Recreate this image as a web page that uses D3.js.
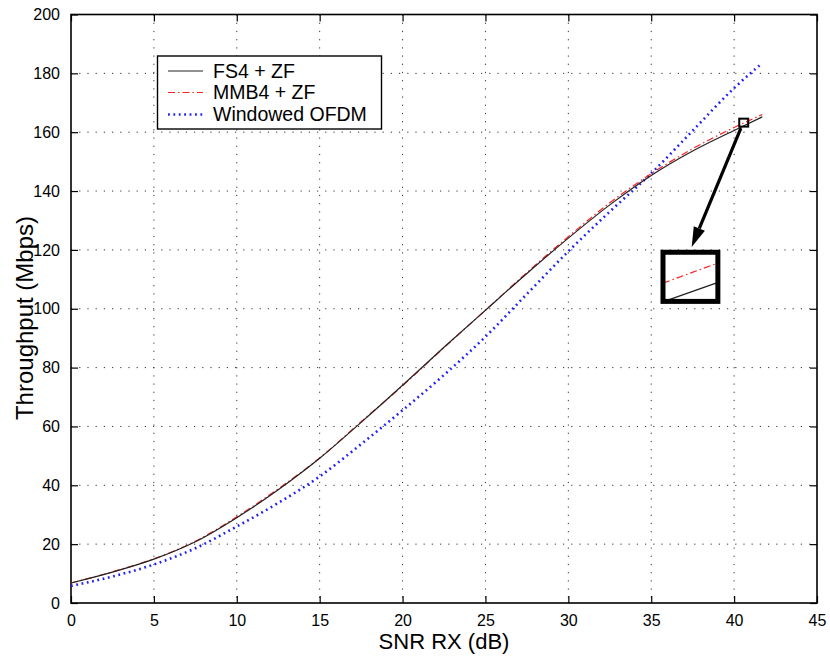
<!DOCTYPE html>
<html><head><meta charset="utf-8">
<script src="https://cdn.jsdelivr.net/npm/d3@7"></script>
<style>body{margin:0;background:#fff}svg{display:block}text{font-family:"Liberation Sans",Arial,sans-serif}</style>
</head><body><svg id="c" width="830" height="662"></svg>
<script>
const snr = [0, 2.5, 5, 7.5, 10, 12.5, 15, 17.5, 20, 22.5, 25, 27.5, 30, 32.5, 35, 37.5, 40, 41.7];
const fs4 = [6.8, 10.5, 14.9, 20.8, 29.0, 38.5, 49.2, 61.4, 74.0, 86.9, 99.5, 112.0, 124.0, 135.3, 145.3, 153.6, 160.6, 165.2];
const mmb4 = [6.8, 10.6, 15.0, 21.0, 29.3, 38.8, 49.3, 61.6, 73.8, 86.8, 99.5, 112.3, 124.5, 136.0, 145.9, 154.4, 161.6, 166.0];
const wofdm = [5.8, 9.0, 13.1, 18.6, 26.0, 34.0, 43.0, 54.0, 65.5, 77.5, 90.5, 105.0, 119.5, 133.0, 146.0, 160.5, 175.0, 183.5];
const seriesNames = ["FS4 + ZF", "MMB4 + ZF", "Windowed OFDM"];
const xTicks = [0, 5, 10, 15, 20, 25, 30, 35, 40, 45];
const yTicks = [0, 20, 40, 60, 80, 100, 120, 140, 160, 180, 200];
const xLabel = "SNR RX (dB)", yLabel = "Throughput (Mbps)";
// annotation (data units)
const zoomBox = {x0: 40.31, x1: 40.85, y0: 161.9, y1: 164.6};
const arrow = {x0: 40.41, y0: 161.4, x1: 37.44, y1: 121.0};
const bigBox = {x0: 35.71, x1: 39.02, y0: 102.5, y1: 119.2};
const insetRed = [[35.71, 108.7], [38.95, 115.4]];
const insetBlack = [[35.95, 102.6], [36.13, 103.2], [38.95, 108.8]];

const svg = d3.select("#c");
const L = 71, R = 817, T = 14.5, B = 603;
const x = d3.scaleLinear().domain([0, 45]).range([L, R]);
const y = d3.scaleLinear().domain([0, 200]).range([B, T]);

// grid
const g = svg.append("g");
g.selectAll(".gx").data(xTicks.slice(1, -1)).join("line")
  .attr("x1", d => x(d)).attr("x2", d => x(d)).attr("y1", T).attr("y2", B)
  .attr("stroke", "#333").attr("stroke-width", 1).attr("stroke-dasharray", "1.2,7");
g.selectAll(".gy").data(yTicks.slice(1, -1)).join("line")
  .attr("y1", d => y(d)).attr("y2", d => y(d)).attr("x1", L).attr("x2", R)
  .attr("stroke", "#333").attr("stroke-width", 1).attr("stroke-dasharray", "1.2,7");

// axes
const ax = d3.axisBottom(x).tickValues(xTicks).tickSize(-7).tickPadding(12);
const ay = d3.axisLeft(y).tickValues(yTicks).tickSize(-7).tickPadding(11);
const axT = d3.axisTop(x).tickValues(xTicks).tickSize(-7).tickFormat("");
const ayR = d3.axisRight(y).tickValues(yTicks).tickSize(-7).tickFormat("");
function styleAxis(sel) {
  sel.select(".domain").remove();
  sel.selectAll("line").attr("stroke", "#000").attr("stroke-width", 1.2);
  sel.selectAll("text").attr("font-family", "Liberation Sans, Arial, sans-serif").attr("font-size", 16).attr("fill", "#000");
}
svg.append("g").attr("transform", `translate(0,${B})`).call(ax).call(styleAxis);
svg.append("g").attr("transform", `translate(${L},0)`).call(ay).call(styleAxis);
svg.append("g").attr("transform", `translate(0,${T})`).call(axT).call(styleAxis);
svg.append("g").attr("transform", `translate(${R},0)`).call(ayR).call(styleAxis);
svg.append("rect").attr("x", L).attr("y", T).attr("width", R - L).attr("height", B - T)
  .attr("fill", "none").attr("stroke", "#000").attr("stroke-width", 1.6);

// lines
const line = d3.line().x(d => x(d[0])).y(d => y(d[1])).curve(d3.curveMonotoneX);
const styles = [
  {data: fs4, stroke: "#222", w: 1.2, dash: null},
  {data: mmb4, stroke: "#ff2020", w: 1.2, dash: "7,3,1.5,3"},
  {data: wofdm, stroke: "#2020ff", w: 2.6, dash: "1.8,3.6"}
];
[2, 1, 0].forEach(i => {
  const s = styles[i];
  svg.append("path").datum(snr.map((v, k) => [v, s.data[k]])).attr("d", line)
    .attr("fill", "none").attr("stroke", s.stroke).attr("stroke-width", s.w)
    .attr("stroke-dasharray", s.dash);
});

// annotation
svg.append("rect").attr("x", x(zoomBox.x0)).attr("y", y(zoomBox.y1))
  .attr("width", x(zoomBox.x1) - x(zoomBox.x0)).attr("height", y(zoomBox.y0) - y(zoomBox.y1))
  .attr("fill", "none").attr("stroke", "#000").attr("stroke-width", 2);
{
  const ax0 = x(arrow.x0), ay0 = y(arrow.y0), ax1 = x(arrow.x1), ay1 = y(arrow.y1);
  const ang = Math.atan2(ay1 - ay0, ax1 - ax0), hl = 20, hw = 6;
  const bx = ax1 - hl * Math.cos(ang), by = ay1 - hl * Math.sin(ang);
  svg.append("line").attr("x1", ax0).attr("y1", ay0).attr("x2", bx).attr("y2", by)
    .attr("stroke", "#000").attr("stroke-width", 3.2);
  svg.append("path").attr("d", `M${ax1},${ay1}L${bx + hw * Math.sin(ang)},${by - hw * Math.cos(ang)}L${bx - hw * Math.sin(ang)},${by + hw * Math.cos(ang)}Z`)
    .attr("fill", "#000");
}
const lin = d3.line().x(d => x(d[0])).y(d => y(d[1]));
svg.append("path").attr("d", lin(insetRed)).attr("fill", "none").attr("stroke", "#ff2020")
  .attr("stroke-width", 1.2).attr("stroke-dasharray", "7,3,1.5,3");
svg.append("path").attr("d", lin(insetBlack)).attr("fill", "none").attr("stroke", "#222").attr("stroke-width", 1.2);
svg.append("rect").attr("x", x(bigBox.x0)).attr("y", y(bigBox.y1))
  .attr("width", x(bigBox.x1) - x(bigBox.x0)).attr("height", y(bigBox.y0) - y(bigBox.y1))
  .attr("fill", "none").attr("stroke", "#000").attr("stroke-width", 5);

// legend
const lg = svg.append("g");
lg.append("rect").attr("x", 157.5).attr("y", 56).attr("width", 224).attr("height", 73)
  .attr("fill", "#fff").attr("stroke", "#000").attr("stroke-width", 1.4);
const rowY = [71, 92.5, 114.5];
seriesNames.forEach((n, i) => {
  const s = styles[i];
  lg.append("line").attr("x1", 168).attr("x2", 203).attr("y1", rowY[i]).attr("y2", rowY[i])
    .attr("stroke", s.stroke).attr("stroke-width", s.w).attr("stroke-dasharray", s.dash);
  lg.append("text").attr("x", 213).attr("y", rowY[i] + 6.5).attr("font-size", 19.5).text(n);
});

// axis labels
svg.append("text").attr("x", (L + R) / 2).attr("y", 649).attr("text-anchor", "middle")
  .attr("font-size", 22).text(xLabel);
svg.append("text").attr("transform", "translate(33,318) rotate(-90)").attr("text-anchor", "middle")
  .attr("font-size", 24).text(yLabel);
</script></body></html>
